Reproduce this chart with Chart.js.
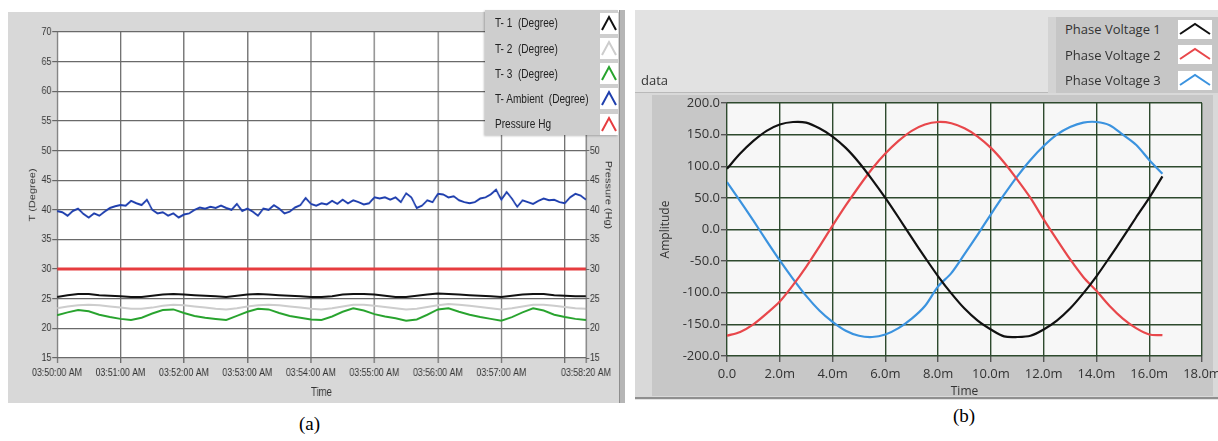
<!DOCTYPE html>
<html>
<head>
<meta charset="utf-8">
<title>Temperature log and phase voltages</title>
<script src="https://cdn.jsdelivr.net/npm/chart.js@4.4.1/dist/chart.umd.min.js"></script>
<style>
  html, body { margin: 0; padding: 0; }
  body { width: 1218px; height: 441px; position: relative; overflow: hidden; background: #fff; }
  .box { position: absolute; }
  canvas { position: absolute; }

  /* panel (a) - the LabVIEW capture is squeezed horizontally, so its canvas is too */
  #panelA { left: 8px; top: 12px; width: 611px; height: 391px; background: #d8d8d8; }
  #edgeA { left: 619px; top: 10px; width: 5px; height: 393px; background: #b6b6b6; border-left: 1px solid #8e8e8e; }
  #chartA { left: 8px; top: 12px; transform: scaleX(0.8); transform-origin: 0 0; }
  #legendA { left: 485px; top: 10px; width: 133px; height: 125px; background: #cecece;
             box-shadow: -1px 1px 2px rgba(0,0,0,0.25);
             font: 12px 'Liberation Sans', sans-serif; color: #222; }
  #legendA .row span { display: inline-block; transform: scaleX(0.84); transform-origin: 0 50%; }

  /* panel (b) */
  #panelB { left: 635px; top: 10px; width: 583px; height: 390px; background: #e2e2e2; }
  #frameB { left: 635px; top: 92px; width: 583px; height: 304px; background: #d9d9d9;
            border-top: 1px solid #b9b9b9; border-bottom: 2px solid #8f8f8f; }
  #axisB { left: 652px; top: 95px; width: 561px; height: 301px; background: #c7c7c7; }
  #chartB { left: 636px; top: 92px; }
  #dataLabel { left: 641px; top: 71px; font: 13px 'Open Sans', sans-serif; color: #333; }
  #legendB { left: 1048px; top: 17px; width: 170px; height: 76px; background: #c6c6c6;
             border-left: 8px solid #d3d3d3; box-sizing: border-box;
             font: 13px 'Open Sans', sans-serif; color: #333; }

  .row { position: absolute; left: 0; white-space: pre; }
  .row svg { position: absolute; background: #fff; }

  .caption { position: absolute; font: 19px 'Liberation Serif', serif; color: #000; }
</style>
</head>
<body>
<div class="box" id="panelA"></div>
<div class="box" id="edgeA"></div>
<canvas id="chartA" width="765" height="391"></canvas>
<div class="box" id="legendA"></div>

<div class="box" id="panelB"></div>
<div class="box" id="frameB"></div>
<div class="box" id="axisB"></div>
<div class="box" id="dataLabel">data</div>
<canvas id="chartB" width="582" height="308"></canvas>
<div class="box" id="legendB"></div>

<div class="caption" style="left:299px; top:413px;">(a)</div>
<div class="caption" style="left:953px; top:405px;">(b)</div>

<script>
// ---------- (a) temperatures / pressure, 03:50:00 .. 03:58:20 AM ----------
const logTickSeconds = [0, 60, 120, 180, 240, 300, 360, 420, 480, 500];
const logTickLabels = ['03:50:00 AM', '03:51:00 AM', '03:52:00 AM', '03:53:00 AM', '03:54:00 AM',
                       '03:55:00 AM', '03:56:00 AM', '03:57:00 AM', '', '03:58:20 AM'];
const tempTicks = [15, 20, 25, 30, 35, 40, 45, 50, 55, 60, 65, 70];
const pressureTicks = [15, 20, 25, 30, 35, 40, 45, 50];

const logNames = ['T- 1  (Degree)', 'T- 2  (Degree)', 'T- 3  (Degree)', 'T- Ambient  (Degree)', 'Pressure Hg'];
const logColors = ['#111111', '#cdcdcd', '#27a32d', '#1f3fae', '#e63c3f'];

// T-1, T-2, T-3 sampled every 10 s
const tempStep = 10;
const t1 = [25.3, 25.6, 25.8, 25.8, 25.6, 25.5, 25.4, 25.3, 25.3, 25.5,
            25.7, 25.8, 25.7, 25.6, 25.5, 25.4, 25.3, 25.5, 25.7, 25.8,
            25.7, 25.6, 25.5, 25.4, 25.3, 25.3, 25.4, 25.7, 25.8, 25.8,
            25.7, 25.5, 25.3, 25.3, 25.5, 25.7, 25.9, 25.8, 25.7, 25.6,
            25.5, 25.4, 25.3, 25.5, 25.7, 25.8, 25.8, 25.6, 25.5, 25.4, 25.4];
const t2 = [23.4, 23.7, 23.9, 24.0, 23.9, 23.7, 23.5, 23.3, 23.3, 23.5,
            23.8, 24.0, 23.9, 23.7, 23.5, 23.3, 23.2, 23.4, 23.7, 23.9,
            24.0, 23.9, 23.7, 23.5, 23.3, 23.2, 23.4, 23.7, 24.0, 24.0,
            23.8, 23.6, 23.4, 23.2, 23.3, 23.6, 23.9, 24.1, 24.0, 23.8,
            23.6, 23.4, 23.2, 23.4, 23.7, 24.0, 24.0, 23.8, 23.6, 23.4, 23.3];
const t3 = [22.2, 22.7, 23.1, 22.9, 22.3, 21.9, 21.6, 21.4, 21.8, 22.5,
            23.1, 23.2, 22.6, 22.1, 21.8, 21.6, 21.4, 22.1, 22.8, 23.3,
            23.2, 22.6, 22.1, 21.8, 21.5, 21.4, 22.0, 22.8, 23.4, 23.0,
            22.4, 22.0, 21.7, 21.3, 21.5, 22.3, 23.2, 23.4, 22.8, 22.3,
            21.9, 21.6, 21.3, 21.9, 22.7, 23.4, 23.0, 22.3, 21.9, 21.6, 21.4];

// ambient sampled every 5 s
const ambientStep = 5;
const tAmbient = [39.8, 39.6, 39.0, 39.8, 40.2, 39.3, 38.7, 39.4, 39.0, 39.7,
                  40.3, 40.6, 40.8, 40.7, 41.5, 41.1, 40.8, 41.7, 40.0, 39.4,
                  39.6, 39.0, 39.4, 38.7, 39.2, 39.4, 40.0, 40.4, 40.2, 40.5,
                  40.3, 40.7, 40.3, 40.0, 41.0, 39.8, 40.2, 39.7, 39.0, 40.2,
                  40.0, 40.8, 40.2, 39.4, 39.7, 40.4, 40.8, 42.0, 41.0, 40.7, 41.1,
                  40.9, 41.5, 41.0, 41.7, 41.1, 41.6, 41.3, 40.9, 41.1, 42.1,
                  41.9, 42.1, 41.7, 42.1, 41.3, 42.8, 42.1, 40.3, 40.7, 41.6,
                  41.3, 42.7, 42.6, 42.1, 42.3, 41.6, 41.3, 41.1, 41.3, 41.9,
                  42.1, 42.6, 43.4, 41.7, 43.0, 41.9, 40.5, 41.6, 41.3, 41.0,
                  41.5, 41.9, 41.6, 41.7, 41.3, 41.1, 42.1, 42.7, 42.4, 41.7];

const pressureSeconds = [0, 500];
const pressureHg = [30, 30];

// ---------- (b) three phase voltages ----------
const phaseNames = ['Phase Voltage 1', 'Phase Voltage 2', 'Phase Voltage 3'];
const phaseColors = ['#111111', '#e8474b', '#3b93df'];
const phaseTimeMs = [0, 0.5, 1, 1.5, 2, 2.5, 3, 3.5, 4, 4.5, 5, 5.5, 6, 6.5, 7, 7.5, 8,
                     8.5, 9, 9.5, 10, 10.5, 11, 11.5, 12, 12.5, 13, 13.5, 14, 14.5, 15, 15.5, 16, 16.5];
const phase1 = [96, 120, 140, 156, 166, 170, 169, 160, 147, 129, 106, 79, 50, 19, -13, -44, -74,
                -101, -125, -144, -158, -169, -170, -168, -158, -144, -125, -101, -74, -44, -13, 19, 50, 84];
const phase2 = [-168, -162, -150, -133, -114, -88, -59, -27, 6, 38, 68, 96, 120, 140, 156, 166, 170,
                168, 160, 147, 129, 106, 79, 50, 16, -16, -47, -75, -97, -121, -141, -156, -166, -167];
const phase3 = [75, 45, 14, -18, -49, -78, -105, -128, -146, -160, -168, -170, -166, -156, -141, -121, -90,
                -69, -39, -8, 24, 55, 84, 110, 132, 150, 162, 169, 170, 165, 150, 134, 110, 88];
const timeTicksMs = [0, 2, 4, 6, 8, 10, 12, 14, 16, 18];
const timeTickText = ['0.0', '2.0m', '4.0m', '6.0m', '8.0m', '10.0m', '12.0m', '14.0m', '16.0m', '18.0m'];
const ampTicks = [-200, -150, -100, -50, 0, 50, 100, 150, 200];
const ampTickText = ['-200.0', '-150.0', '-100.0', '-50.0', '0.0', '50.0', '100.0', '150.0', '200.0'];

// plot area fill
const plotBackground = {
    id: 'plotBackground',
    beforeDraw(chart, args, opts) {
        const { ctx, chartArea: a } = chart;
        ctx.save();
        ctx.fillStyle = opts.color;
        ctx.fillRect(a.left, a.top, a.width, a.height);
        ctx.restore();
    }
};

function stepPoints(values, step) {
    return values.map((v, i) => ({ x: i * step, y: v }));
}
function pairPoints(xs, ys) {
    return xs.map((x, i) => ({ x: x, y: ys[i] }));
}

const sans = "'Liberation Sans', sans-serif";

// canvas A is 765 px wide internally, shown at 80 % width
new Chart(document.getElementById('chartA'), {
    type: 'line',
    data: {
        datasets: [
            { label: logNames[0], data: stepPoints(t1, tempStep), borderColor: logColors[0], yAxisID: 'y' },
            { label: logNames[1], data: stepPoints(t2, tempStep), borderColor: logColors[1], yAxisID: 'y' },
            { label: logNames[2], data: stepPoints(t3, tempStep), borderColor: logColors[2], yAxisID: 'y' },
            { label: logNames[3], data: stepPoints(tAmbient, ambientStep), borderColor: logColors[3], yAxisID: 'y' },
            { label: logNames[4], data: pairPoints(pressureSeconds, pressureHg), borderColor: logColors[4], borderWidth: 3, yAxisID: 'y2' }
        ]
    },
    plugins: [plotBackground],
    options: {
        responsive: false,
        animation: false,
        layout: { padding: { top: 20, left: 0, right: 0, bottom: 0 } },
        elements: { point: { radius: 0 }, line: { borderWidth: 2, tension: 0 } },
        plugins: {
            legend: { display: false },
            tooltip: { enabled: false },
            plotBackground: { color: '#ffffff' }
        },
        scales: {
            x: {
                type: 'linear', min: 0, max: 500,
                afterBuildTicks: s => { s.ticks = logTickSeconds.map(v => ({ value: v })); },
                afterFit: s => { s.height = 45; s.paddingLeft = 0; s.paddingRight = 0; },
                ticks: { callback: (v, i) => logTickLabels[i], autoSkip: false, maxRotation: 0,
                         padding: 3, color: '#333', font: { family: sans, size: 11 } },
                grid: { color: '#6a6a6a', lineWidth: 1.5, tickLength: 5, tickColor: '#666' },
                border: { display: false },
                title: { display: true, text: 'Time', color: '#333', padding: { top: 0, bottom: 3 },
                         font: { family: sans, size: 12 } }
            },
            y: {
                position: 'left', min: 15, max: 70,
                afterBuildTicks: s => { s.ticks = tempTicks.map(v => ({ value: v })); },
                afterFit: s => { s.width = 61.25; s.paddingTop = 0; s.paddingBottom = 0; },
                ticks: { padding: 1, color: '#333', font: { family: sans, size: 11 } },
                grid: { color: '#6a6a6a', lineWidth: 1.2, tickLength: 6, tickColor: '#666' },
                border: { display: false },
                title: { display: true, text: 'T (Degree)', color: '#333', padding: { top: 24, bottom: 0 },
                         font: { family: sans, size: 11 } }
            },
            y2: {
                position: 'right', min: 15, max: 70,
                afterBuildTicks: s => { s.ticks = pressureTicks.map(v => ({ value: v })); },
                afterFit: s => { s.width = 42.5; s.paddingTop = 0; s.paddingBottom = 0; },
                ticks: { padding: 1, color: '#333', font: { family: sans, size: 11 } },
                grid: { drawOnChartArea: false, tickLength: 4, tickColor: '#666' },
                border: { display: false },
                title: { display: true, text: 'Pressure (Hg)', color: '#333', padding: { top: 8, bottom: 0 },
                         font: { family: sans, size: 11 } }
            }
        }
    }
});

const openSans = "'Open Sans', sans-serif";

new Chart(document.getElementById('chartB'), {
    type: 'line',
    data: {
        datasets: phaseNames.map((name, k) => ({
            label: name,
            data: pairPoints(phaseTimeMs, [phase1, phase2, phase3][k]),
            borderColor: phaseColors[k]
        }))
    },
    plugins: [plotBackground],
    options: {
        responsive: false,
        animation: false,
        layout: { padding: { top: 11, left: 0, right: 16, bottom: 0 } },
        elements: { point: { radius: 0 }, line: { borderWidth: 2.2, tension: 0.3 } },
        plugins: {
            legend: { display: false },
            tooltip: { enabled: false },
            plotBackground: { color: '#f7f7f7' }
        },
        scales: {
            x: {
                type: 'linear', min: 0, max: 18,
                afterBuildTicks: s => { s.ticks = timeTicksMs.map(v => ({ value: v })); },
                afterFit: s => { s.height = 44; s.paddingLeft = 0; s.paddingRight = 0; },
                ticks: { callback: (v, i) => timeTickText[i], autoSkip: false, maxRotation: 0,
                         padding: 4, color: '#333', font: { family: openSans, size: 13 } },
                grid: { color: '#2e4a2e', lineWidth: 1.4, tickLength: 6, tickColor: '#555' },
                border: { display: false },
                title: { display: true, text: 'Time', color: '#333', padding: { top: 0, bottom: 1 },
                         font: { family: openSans, size: 12 } }
            },
            y: {
                min: -200, max: 200,
                afterBuildTicks: s => { s.ticks = ampTicks.map(v => ({ value: v })); },
                afterFit: s => { s.width = 91; s.paddingTop = 0; s.paddingBottom = 0; },
                ticks: { callback: (v, i) => ampTickText[i], padding: 1, color: '#333',
                         font: { family: openSans, size: 13 } },
                grid: { color: '#2e4a2e', lineWidth: 1.4, tickLength: 6, tickColor: '#555' },
                border: { display: false },
                title: { display: true, text: 'Amplitude', color: '#333', padding: { top: 22, bottom: 0 },
                         font: { family: openSans, size: 12 } }
            }
        }
    }
});

// LabVIEW style legends built from the series names / colours
function buildLegend(id, names, colors, cfg) {
    const el = document.getElementById(id);
    el.innerHTML = names.map((name, i) => {
        const cy = cfg.firstCenter + cfg.rowStep * i;
        return `<div class="row" style="top:${cy - cfg.boxH / 2}px; height:${cfg.boxH}px; width:100%;">
            <span style="position:absolute; left:${cfg.textLeft}px; top:${cfg.boxH / 2 - 9}px; line-height:18px;">${name}</span>
            <svg width="${cfg.boxW}" height="${cfg.boxH}" style="left:${cfg.boxLeft}px; top:0;">
              <polyline points="${cfg.chevron}" fill="none" stroke="${colors[i]}" stroke-width="2"/>
            </svg></div>`;
    }).join('');
}

buildLegend('legendA', logNames, logColors,
    { firstCenter: 13.3, rowStep: 25.2, boxH: 21, boxW: 18, boxLeft: 115, textLeft: 10, chevron: '2,17 9,4 16,17' });
buildLegend('legendB', phaseNames, phaseColors,
    { firstCenter: 12, rowStep: 25.5, boxH: 19, boxW: 34, boxLeft: 122, textLeft: 9, chevron: '2,14 17,4 32,14' });
</script>
</body>
</html>
